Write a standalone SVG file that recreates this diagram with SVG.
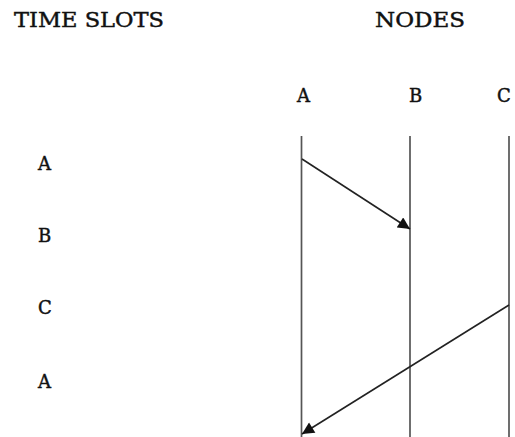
<svg xmlns="http://www.w3.org/2000/svg" width="515" height="437" viewBox="0 0 515 437">
<style>
text{font-family:"DejaVu Serif","Liberation Serif",serif;fill:#111;stroke:#111;stroke-width:0.45}
.h{font-size:21px}
.l{font-size:18px}
.lane{stroke:#555;stroke-width:1.7;fill:none}
.msg{stroke:#222;stroke-width:1.6;fill:none;marker-end:url(#ah)}
</style>
<defs>
<marker id="ah" viewBox="0 0 10 10" refX="10" refY="5" markerWidth="13" markerHeight="12" markerUnits="userSpaceOnUse" orient="auto"><path d="M0,0 L10,5 L0,10 z" fill="#111"/></marker>
</defs>
<g id="headers">
<text class="h" x="14" y="27" textLength="150" lengthAdjust="spacingAndGlyphs">TIME SLOTS</text>
<text class="h" x="375" y="27" textLength="90" lengthAdjust="spacingAndGlyphs">NODES</text>
</g>
<g id="slots">
<text class="l" x="38" y="170">A</text>
<text class="l" x="38" y="242">B</text>
<text class="l" x="38" y="314">C</text>
<text class="l" x="38" y="388">A</text>
</g>
<g id="nodeA"><text class="l" x="297" y="102">A</text><line class="lane" x1="301.5" y1="136" x2="301.5" y2="437"/></g>
<g id="nodeB"><text class="l" x="409" y="102">B</text><line class="lane" x1="410" y1="136" x2="410" y2="437"/></g>
<g id="nodeC"><text class="l" x="497" y="102">C</text><line class="lane" x1="509" y1="136" x2="509" y2="437"/></g>
<g id="connectors">
<line class="msg" x1="302" y1="159" x2="410" y2="229"/>
<line class="msg" x1="509" y1="305" x2="302" y2="434"/>
</g>
</svg>
